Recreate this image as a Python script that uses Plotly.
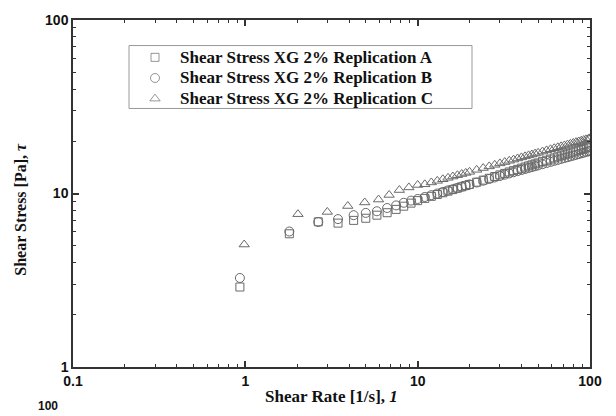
import plotly.graph_objects as go

# ---- data ----
rate_ab = [0.93, 1.8, 2.65, 3.45, 4.25, 5.0, 5.8, 6.65, 7.5, 8.3, 9.15, 10,
           11, 12, 13, 14, 15, 16, 17, 18, 19, 20, 22, 24, 26, 28, 30, 32, 34,
           36, 38, 40, 42, 44, 46, 48, 50, 53, 56, 59, 62, 65, 68, 71, 74, 77,
           80, 83, 86, 89, 92, 95, 98, 100]
stress_a = [2.89, 5.86, 6.87, 6.75, 7.0, 7.2, 7.5, 7.75, 8.1, 8.45, 8.8, 9.1,
            9.37, 9.63, 9.87, 10.10, 10.32, 10.53, 10.73, 10.92, 11.11, 11.28,
            11.62, 11.94, 12.24, 12.53, 12.80, 13.06, 13.31, 13.54, 13.77,
            13.99, 14.21, 14.42, 14.62, 14.81, 15.00, 15.27, 15.54, 15.79,
            16.03, 16.27, 16.50, 16.72, 16.94, 17.15, 17.36, 17.56, 17.75,
            17.94, 18.13, 18.31, 18.48, 18.6]
stress_b = [3.26, 6.04, 6.85, 7.12, 7.5, 7.73, 7.9, 8.25, 8.54, 8.84, 9.1, 9.3,
            9.55, 9.78, 10.00, 10.21, 10.41, 10.59, 10.77, 10.94, 11.11, 11.27,
            11.57, 11.85, 12.12, 12.37, 12.61, 12.84, 13.05, 13.26, 13.46,
            13.65, 13.84, 14.02, 14.19, 14.36, 14.52, 14.76, 14.99, 15.21,
            15.42, 15.62, 15.82, 16.01, 16.19, 16.37, 16.54, 16.71, 16.88,
            17.04, 17.20, 17.35, 17.50, 17.6]
rate_c = [0.985, 2.02, 2.99, 3.93, 4.93, 5.93, 6.83, 7.83, 8.89, 10, 11, 12,
          13, 14, 15, 16, 17, 18, 19, 20, 22, 24, 26, 28, 30, 32, 34, 36, 38,
          40, 42, 44, 46, 48, 50, 53, 56, 59, 62, 65, 68, 71, 74, 77, 80, 83,
          86, 89, 92, 95, 98, 100]
stress_c = [5.08, 7.6, 7.83, 8.47, 8.88, 9.23, 9.81, 10.47, 10.84, 11.2, 11.3,
            11.58, 11.83, 12.08, 12.31, 12.53, 12.75, 12.95, 13.14, 13.33,
            13.69, 14.02, 14.33, 14.63, 14.91, 15.18, 15.44, 15.68, 15.92,
            16.15, 16.37, 16.58, 16.78, 16.98, 17.17, 17.45, 17.72, 17.98,
            18.23, 18.47, 18.70, 18.92, 19.14, 19.35, 19.56, 19.76, 19.95,
            20.15, 20.33, 20.51, 20.69, 20.8]
names = ["Shear Stress XG 2% Replication A",
         "Shear Stress XG 2% Replication B",
         "Shear Stress XG 2% Replication C"]
symbols = ["square-open", "circle-open", "triangle-up-open"]
sizes = [8, 9, 9]

W, H = 616, 416
L, R, T, B = 73, 26, 14, 49
GRAY = "#6a6a6a"
SERIF = "Liberation Serif"
SANS = "Liberation Sans"

pw, ph = W - L - R, H - T - B
def px(xp):
    return (xp - L) / pw
def py(yp):
    return (H - B - yp) / ph

fig = go.Figure()
series = [(rate_ab, stress_a), (rate_ab, stress_b), (rate_c, stress_c)]
for (x, y), nm, sym, sz in zip(series, names, symbols, sizes):
    fig.add_trace(go.Scatter(x=x, y=y, mode="markers", name=nm, showlegend=False,
                             marker=dict(symbol=sym, size=sz, color=GRAY,
                                         line=dict(width=1, color=GRAY))))

# legend box (drawn by hand so that it matches the reference's placement)
leg_rows = [52, 73, 94]
fig.add_shape(type="rect", xref="paper", yref="paper",
              x0=px(129), x1=px(472), y0=py(104), y1=py(40),
              line=dict(color="#999999", width=1), fillcolor="white", layer="below")
fig.add_trace(go.Scatter(x=[px(155)] * 3, y=[py(r) for r in leg_rows],
                         xaxis="x2", yaxis="y2", mode="markers", showlegend=False,
                         hoverinfo="skip",
                         marker=dict(symbol=symbols, size=sizes, color=GRAY,
                                     line=dict(width=1, color=GRAY))))

axis_common = dict(type="log", showgrid=False, zeroline=False, showline=True,
                   linecolor="#333333", linewidth=1.5, mirror="ticks",
                   ticks="inside", ticklen=6, tickwidth=1.5, tickcolor="#333333",
                   tickfont=dict(family=SANS, size=14, color="#111111", weight="bold"),
                   minor=dict(ticks="inside", ticklen=3, tickwidth=1,
                              tickcolor="#333333", dtick="D1"))

fig.update_xaxes(range=[-1, 2], tickvals=[0.1, 1, 10, 100],
                 ticktext=["0.1", "1", "10", "100"], **axis_common)
fig.update_yaxes(range=[0, 2], tickvals=[1, 10, 100],
                 ticktext=["1", "10", "100"], **axis_common)

annots = [
    dict(text="Shear Rate [1/s], <i>1</i>", x=px(331), y=py(397),
         xref="paper", yref="paper", xanchor="center", yanchor="middle",
         showarrow=False,
         font=dict(family=SERIF, size=17, color="#111111", weight="bold")),
    dict(text="Shear Stress [Pa], <i>τ</i>", x=px(21), y=py(207),
         xref="paper", yref="paper", xanchor="center", yanchor="middle",
         showarrow=False, textangle=-90,
         font=dict(family=SERIF, size=16, color="#111111", weight="bold")),
    dict(text="100", x=px(48), y=py(416), xref="paper", yref="paper",
         xanchor="center", yanchor="bottom", showarrow=False,
         font=dict(family=SANS, size=12, color="#111111", weight="bold")),
]
for nm, r in zip(names, leg_rows):
    annots.append(dict(text=nm, x=px(178), y=py(r), xref="paper", yref="paper",
                       xanchor="left", yanchor="middle", showarrow=False,
                       font=dict(family=SERIF, size=17, color="#111111",
                                 weight="bold")))

fig.update_layout(
    width=W, height=H, margin=dict(l=L, r=R, t=T, b=B),
    paper_bgcolor="white", plot_bgcolor="white",
    xaxis2=dict(overlaying="x", range=[0, 1], visible=False, fixedrange=True),
    yaxis2=dict(overlaying="y", range=[0, 1], visible=False, fixedrange=True),
    annotations=annots,
)

fig.write_html("out.html")
